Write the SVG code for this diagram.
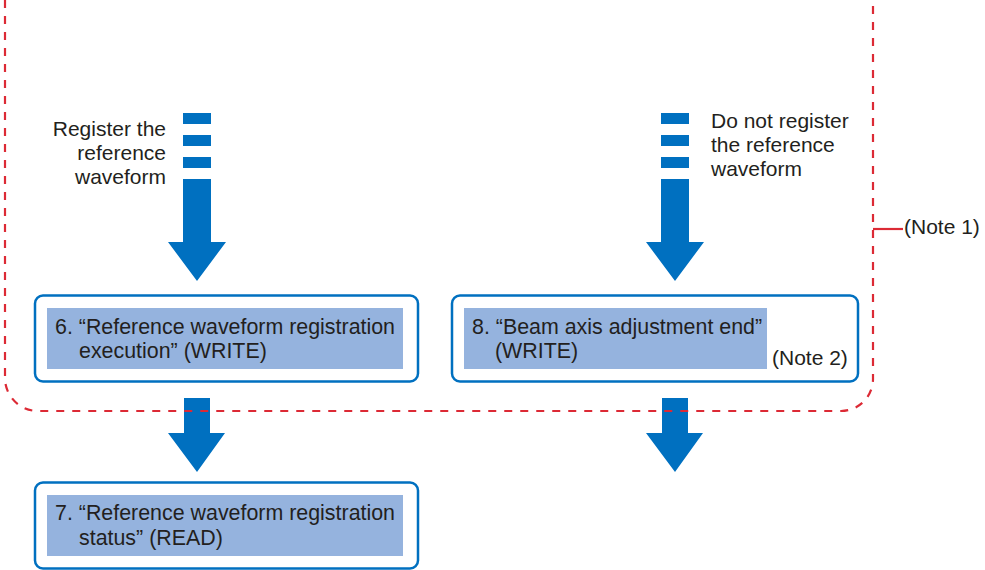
<svg xmlns="http://www.w3.org/2000/svg" width="985" height="570" viewBox="0 0 985 570">
<defs>
<style>
.t{font-family:"Liberation Sans",Arial,sans-serif;font-size:21px;fill:#231F20}
.b{font-size:21.4px}
.box{fill:#FFFFFF;stroke:#0070C0;stroke-width:2.5}
.inner{fill:#95B3DE}
.arr{fill:#0070C0}
.red{fill:none;stroke:#DC2A35;stroke-width:2.2}
</style>
</defs>
<rect width="985" height="570" fill="#FFFFFF"/>
<g id="connectors">
<g id="arrow-register">
<rect class="arr" x="183" y="113" width="28" height="11"/>
<rect class="arr" x="183" y="135" width="28" height="11"/>
<rect class="arr" x="183" y="157" width="28" height="11"/>
<polygon class="arr" points="183,179 211,179 211,242 226,242 197,281 168,242 183,242"/>
</g>
<g id="arrow-noregister">
<rect class="arr" x="661" y="113" width="28" height="11"/>
<rect class="arr" x="661" y="135" width="28" height="11"/>
<rect class="arr" x="661" y="157" width="28" height="11"/>
<polygon class="arr" points="661,179 689,179 689,242 704,242 675,281 646,242 661,242"/>
</g>
<polygon id="arrow-6-7" class="arr" points="184,398 210,398 210,433 225,433 197,472 168,433 184,433"/>
<polygon id="arrow-8-out" class="arr" points="662,398 688,398 688,433 703,433 675,472 646,433 662,433"/>
</g>
<g id="node6">
<rect class="box" x="35" y="295.5" width="383" height="86" rx="8"/>
<rect class="inner" x="47" y="308" width="356" height="61"/>
<text class="t b" x="55" y="334">6. “Reference waveform registration</text>
<text class="t b" x="79" y="358">execution” (WRITE)</text>
</g>
<g id="node8">
<rect class="box" x="452" y="295.5" width="406" height="86" rx="8"/>
<rect class="inner" x="464" y="308" width="303" height="61"/>
<text class="t b" x="472" y="334">8. “Beam axis adjustment end”</text>
<text class="t b" x="495" y="358">(WRITE)</text>
<text class="t" x="772" y="365">(Note 2)</text>
</g>
<g id="node7">
<rect class="box" x="35" y="482.5" width="383" height="86" rx="8"/>
<rect class="inner" x="47" y="495" width="356" height="61"/>
<text class="t b" x="55" y="520">7. “Reference waveform registration</text>
<text class="t b" x="79" y="545">status” (READ)</text>
</g>
<g id="label-register">
<text class="t" text-anchor="end" x="166" y="136">Register the</text>
<text class="t" text-anchor="end" x="166" y="160">reference</text>
<text class="t" text-anchor="end" x="166" y="184">waveform</text>
</g>
<g id="label-noregister">
<text class="t" x="711" y="128">Do not register</text>
<text class="t" x="711" y="152">the reference</text>
<text class="t" x="711" y="176">waveform</text>
</g>
<g id="note1-region">
<path class="red" stroke-dasharray="8 8" d="M5,0 V378 A33,33 0 0 0 38,411 H841 A32,32 0 0 0 873,379 V0"/>
<line class="red" x1="873" y1="229" x2="903" y2="229"/>
<text class="t" x="904" y="234">(Note 1)</text>
</g>
</svg>
